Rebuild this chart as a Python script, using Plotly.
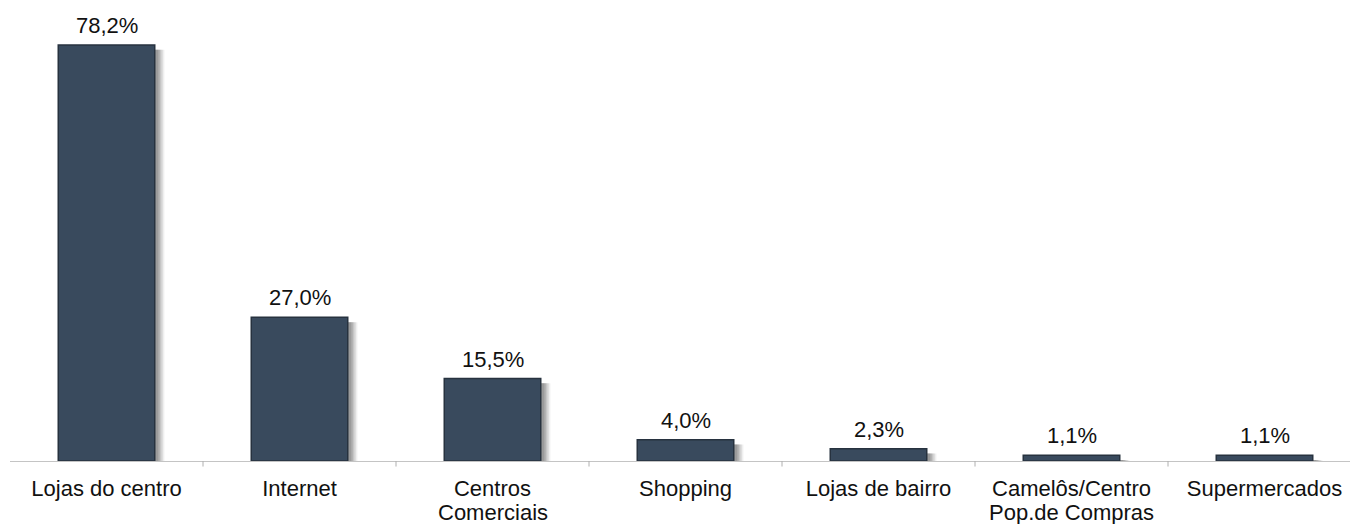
import plotly.graph_objects as go

# Onde costuma comprar (% de respostas)
categories = [
    "Lojas do centro",
    "Internet",
    "Centros<br>Comerciais",
    "Shopping",
    "Lojas de bairro",
    "Camelôs/Centro<br>Pop.de Compras",
    "Supermercados",
]
values = [78.2, 27.0, 15.5, 4.0, 2.3, 1.1, 1.1]
value_labels = ["78,2%", "27,0%", "15,5%", "4,0%", "2,3%", "1,1%", "1,1%"]

BAR_COLOR = "#394a5d"
BAR_EDGE = "#27323f"
FONT = "Arial, Liberation Sans, sans-serif"
TEXT_COLOR = "#111111"

bar_width = 0.5
x_pos = list(range(len(categories)))

# category names split into first line (tick label) and optional second line
first_lines = [c.split("<br>")[0] for c in categories]
second_lines = [c.split("<br>")[1] if "<br>" in c else "" for c in categories]

fig = go.Figure()

# soft drop shadow to the right of each bar (layered for a blurred look)
for shift, alpha in [(0.050, 0.10), (0.042, 0.14), (0.034, 0.18), (0.026, 0.22), (0.018, 0.26)]:
    fig.add_trace(go.Bar(
        x=x_pos,
        y=[max(v - 0.9, 0) for v in values],
        width=bar_width,
        offset=-bar_width / 2 + shift,
        marker=dict(color=f"rgba(100,100,100,{alpha})", line=dict(width=0)),
        hoverinfo="skip",
        showlegend=False,
    ))

# main bars
fig.add_trace(go.Bar(
    x=x_pos,
    y=values,
    width=bar_width,
    offset=-bar_width / 2,
    marker=dict(color=BAR_COLOR, line=dict(color=BAR_EDGE, width=1.5)),
    showlegend=False,
))

# value labels above bars
for xi, v, lab in zip(x_pos, values, value_labels):
    fig.add_annotation(
        x=xi, y=v, text=lab, showarrow=False,
        yanchor="bottom", yshift=5,
        font=dict(family=FONT, size=22, color=TEXT_COLOR),
    )

# second line of the two-line category names, set tighter than default
for xi, line in zip(x_pos, second_lines):
    if line:
        fig.add_annotation(
            x=xi, y=0, yref="y", text=line, showarrow=False,
            yanchor="top", yshift=-38, borderpad=0,
            font=dict(family=FONT, size=22, color=TEXT_COLOR),
        )

fig.update_layout(
    width=1350,
    height=524,
    margin=dict(l=10, r=0, t=0, b=63),
    paper_bgcolor="white",
    plot_bgcolor="white",
    barmode="overlay",
    font=dict(family=FONT, size=22, color=TEXT_COLOR),
)

fig.update_xaxes(
    tickmode="array",
    tickvals=x_pos,
    ticktext=first_lines,
    range=[-0.5, -0.5 + 1340 / 193],
    automargin=False,
    showline=True,
    linecolor="#c4c4c4",
    linewidth=1,
    ticks="",
    ticklabelstandoff=8,
    showgrid=False,
    zeroline=False,
    tickfont=dict(family=FONT, size=22, color=TEXT_COLOR),
)

# boundary tick marks between categories
for b in range(len(categories)):
    fig.add_shape(
        type="line", xref="x", yref="paper",
        x0=b + 0.5, x1=b + 0.5, y0=0, y1=-0.012,
        line=dict(color="#b0b0b0", width=1),
    )

fig.update_yaxes(
    range=[0, 461 / 5.32],
    automargin=False,
    visible=False,
    showgrid=False,
    zeroline=False,
)

fig.write_html("out.html")
